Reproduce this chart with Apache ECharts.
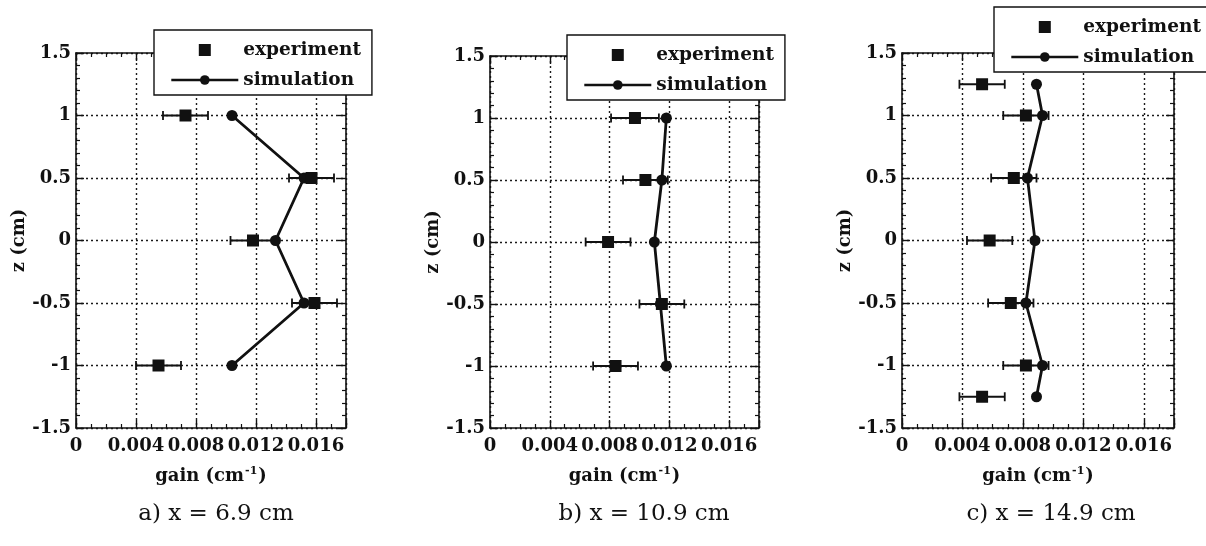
<!DOCTYPE html>
<html><head><meta charset="utf-8">
<script src="https://cdn.jsdelivr.net/npm/echarts@6/dist/echarts.min.js"></script>
<style>html,body{margin:0;padding:0;background:#fff}#c{width:1206px;height:546px}</style>
</head><body><div id="c"></div>
<script>
// ---- data ----
const panelTitles = ['a) x = 6.9 cm', 'b) x = 10.9 cm', 'c) x = 14.9 cm'];
const legendNames = ['experiment', 'simulation'];
const xAxisName = 'gain (cm{sup|-1})';
const yAxisName = 'z (cm)';
const gainMin = 0, gainMax = 0.018, gainStep = 0.004;
const zMin = -1.5, zMax = 1.5, zStep = 0.5;

const zA = [1, 0.5, 0, -0.5, -1];
const expGainA = [0.0073, 0.0157, 0.0118, 0.0159, 0.0055];
const expErrA = [0.0015, 0.0015, 0.0015, 0.0015, 0.0015];
const simGainA = [0.0104, 0.0152, 0.0133, 0.0152, 0.0104];

const zB = [1, 0.5, 0, -0.5, -1];
const expGainB = [0.0097, 0.0104, 0.0079, 0.0115, 0.0084];
const expErrB = [0.0016, 0.0015, 0.0015, 0.0015, 0.0015];
const simGainB = [0.0118, 0.0115, 0.0110, 0.0114, 0.0118];

const zC = [1.25, 1, 0.5, 0, -0.5, -1, -1.25];
const expGainC = [0.0053, 0.0082, 0.0074, 0.0058, 0.0072, 0.0082, 0.0053];
const expErrC = [0.0015, 0.0015, 0.0015, 0.0015, 0.0015, 0.0015, 0.0015];
const simGainC = [0.0089, 0.0093, 0.0083, 0.0088, 0.0082, 0.0093, 0.0089];

// ---- layout / style ----
const panels = [
  {z: zA, exp: expGainA, err: expErrA, sim: simGainA},
  {z: zB, exp: expGainB, err: expErrB, sim: simGainB},
  {z: zC, exp: expGainC, err: expErrC, sim: simGainC}
];
const gridPos = [
  {left: 76, top: 53, width: 270, height: 375},
  {left: 490, top: 56, width: 269, height: 372},
  {left: 902, top: 53, width: 272, height: 375}
];
const legendPos = [
  {left: 154, top: 30},
  {left: 567, top: 35},
  {left: 994, top: 7}
];
const titlePos = [[216, 514], [644, 514], [1051, 514]];

const FONT = '"DejaVu Serif", "Liberation Serif", serif';
const INK = '#111';
const dotted = {color: '#1a1a1a', width: 1.4, type: [2, 3]};

const chart = echarts.init(document.getElementById('c'), null, {renderer: 'canvas'});

const grid = gridPos.map(g => Object.assign({containLabel: false}, g));
const xAxis = [], yAxis = [], series = [];

panels.forEach((p, i) => {
  const baseX = {
    type: 'value', gridIndex: i, min: gainMin, max: gainMax, interval: gainStep,
    axisLine: {show: true, onZero: false, lineStyle: {color: INK, width: 1.6}},
    axisTick: {show: true, inside: true, length: 8, lineStyle: {color: INK, width: 1.4}},
    minorTick: {show: true, splitNumber: 4, length: 4, lineStyle: {color: INK, width: 1.2}},
  };
  xAxis.push(Object.assign({}, baseX, {
    position: 'bottom',
    splitLine: {show: true, lineStyle: dotted},
    axisLabel: {
      show: true, margin: 9, showMaxLabel: false,
      fontFamily: FONT, fontWeight: 'bold', fontSize: 18, color: INK,
      formatter: v => (v === 0 ? '0' : v.toFixed(3))
    },
    name: xAxisName, nameLocation: 'middle', nameGap: 38,
    nameTextStyle: {
      fontFamily: FONT, fontWeight: 'bold', fontSize: 18, color: INK,
      rich: {sup: {fontFamily: FONT, fontWeight: 'bold', fontSize: 11, color: INK, verticalAlign: 'top', padding: [0, 1, 9, 1]}}
    }
  }));
  xAxis.push(Object.assign({}, baseX, {
    position: 'top', splitLine: {show: false}, axisLabel: {show: false}
  }));
  const baseY = {
    type: 'value', gridIndex: i, min: zMin, max: zMax, interval: zStep,
    axisLine: {show: true, onZero: false, lineStyle: {color: INK, width: 1.6}},
    axisTick: {show: true, inside: true, length: 8, lineStyle: {color: INK, width: 1.4}},
    minorTick: {show: true, splitNumber: 5, length: 4, lineStyle: {color: INK, width: 1.2}},
  };
  yAxis.push(Object.assign({}, baseY, {
    position: 'left',
    splitLine: {show: true, lineStyle: dotted},
    axisLabel: {show: true, margin: 5, fontFamily: FONT, fontWeight: 'bold', fontSize: 18, color: INK},
    name: yAxisName, nameLocation: 'middle', nameGap: 46, nameRotate: 90,
    nameTextStyle: {fontFamily: FONT, fontWeight: 'bold', fontSize: 18, color: INK}
  }));
  yAxis.push(Object.assign({}, baseY, {
    position: 'right', splitLine: {show: false}, axisLabel: {show: false}
  }));

  const xi = i * 2, yi = i * 2;
  series.push({
    type: 'custom', name: 'experiment error', xAxisIndex: xi, yAxisIndex: yi, z: 2,
    data: p.z.map((z, k) => [p.exp[k] - p.err[k], p.exp[k] + p.err[k], z]),
    encode: {x: [0, 1], y: 2},
    renderItem: (params, api) => {
      const zz = api.value(2);
      const lo = api.coord([api.value(0), zz]);
      const hi = api.coord([api.value(1), zz]);
      const cap = 4.5;
      const st = {stroke: INK, lineWidth: 1.8};
      return {type: 'group', children: [
        {type: 'line', shape: {x1: lo[0], y1: lo[1], x2: hi[0], y2: hi[1]}, style: st},
        {type: 'line', shape: {x1: lo[0], y1: lo[1] - cap, x2: lo[0], y2: lo[1] + cap}, style: st},
        {type: 'line', shape: {x1: hi[0], y1: hi[1] - cap, x2: hi[0], y2: hi[1] + cap}, style: st}
      ]};
    },
    silent: true
  });
  series.push({
    type: 'line', name: legendNames[1], xAxisIndex: xi, yAxisIndex: yi, z: 3,
    data: p.z.map((z, k) => [p.sim[k], z]),
    symbol: 'circle', symbolSize: 11, showSymbol: true,
    lineStyle: {color: INK, width: 2.8},
    itemStyle: {color: INK, opacity: 1},
    animation: false
  });
  series.push({
    type: 'scatter', name: legendNames[0], xAxisIndex: xi, yAxisIndex: yi, z: 4,
    data: p.z.map((z, k) => [p.exp[k], z]),
    symbol: 'rect', symbolSize: 12,
    itemStyle: {color: INK, opacity: 1},
    animation: false
  });
});

const legend = legendPos.map(l => ({
  orient: 'vertical', left: l.left, top: l.top,
  data: [{name: legendNames[0], icon: 'path://M0,0H10V10H0Z'}, {name: legendNames[1]}],
  itemWidth: 67, itemHeight: 12, itemGap: 10,
  padding: [10, 11, 5, 16],
  borderColor: INK, borderWidth: 1.4, backgroundColor: '#fff',
  lineStyle: {width: 2.6, color: INK},
  textStyle: {fontFamily: FONT, fontWeight: 'bold', fontSize: 18.5, color: INK, lineHeight: 20},
  selectedMode: false, z: 10
}));

const graphic = panelTitles.map((t, i) => ({
  type: 'text', x: titlePos[i][0], y: titlePos[i][1], z: 10,
  style: {text: t, fill: INK, font: '23px ' + FONT, textAlign: 'center', textVerticalAlign: 'middle'}
}));

chart.setOption({
  animation: false,
  backgroundColor: '#fff',
  grid, xAxis, yAxis, series, legend, graphic
});
</script>
</body></html>
